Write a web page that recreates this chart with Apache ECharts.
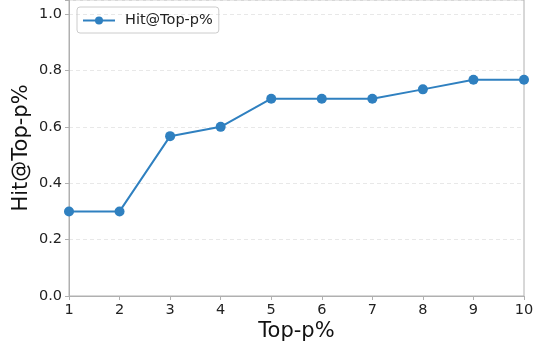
<!DOCTYPE html>
<html>
<head>
<meta charset="utf-8">
<script src="https://cdn.jsdelivr.net/npm/echarts@6/dist/echarts.min.js"></script>
<style>html,body{margin:0;padding:0;background:#fff}#c{width:545px;height:349px}</style>
</head>
<body>
<div id="c"></div>
<script>
// Hit rate at each Top-p% cutoff
const topP = [1, 2, 3, 4, 5, 6, 7, 8, 9, 10];
const hitRate = [0.3, 0.3, 0.567, 0.6, 0.7, 0.7, 0.7, 0.733, 0.767, 0.767];
const seriesName = 'Hit@Top-p%';

const font = 'DejaVu Sans';
const axisGray = '#b0b0b0';
const chart = echarts.init(document.getElementById('c'), null, {renderer: 'canvas'});
chart.setOption({
  animation: false,
  textStyle: {fontFamily: font},
  grid: {left: 69, right: 21, top: 0, bottom: 53, outerBoundsMode: 'none', containLabel: false,
    show: true, borderColor: axisGray, borderWidth: 1, backgroundColor: 'transparent'},
  legend: {
    show: true,
    left: 77, top: 7,
    padding: [6, 6, 5, 5],
    borderColor: '#cccccc', borderWidth: 1, borderRadius: 3,
    itemWidth: 32, itemHeight: 10, itemGap: 10,
    textStyle: {fontFamily: font, fontSize: 14.5, color: '#222', padding: [0, 0, 0, 5]},
    data: [{name: seriesName}]
  },
  xAxis: {
    type: 'value', min: 1, max: 10, interval: 1,
    name: 'Top-p%', nameLocation: 'middle', nameGap: 25, nameMoveOverlap: false,
    nameTextStyle: {fontFamily: font, fontSize: 21, color: '#111'},
    axisLine: {show: true, lineStyle: {color: axisGray, width: 1}},
    axisTick: {show: true, length: 4, lineStyle: {color: axisGray}},
    axisLabel: {fontFamily: font, fontSize: 14.5, color: '#222', margin: 7},
    splitLine: {show: false}
  },
  yAxis: {
    type: 'value', min: 0, max: 1.05, interval: 0.2,
    name: 'Hit@Top-p%', nameLocation: 'middle', nameGap: 37, nameMoveOverlap: false,
    nameTextStyle: {fontFamily: font, fontSize: 21, color: '#111'},
    axisLine: {show: true, lineStyle: {color: axisGray, width: 1}},
    axisTick: {show: true, length: 4, lineStyle: {color: axisGray}},
    axisLabel: {fontFamily: font, fontSize: 14.5, color: '#222', margin: 7,
      formatter: v => (Math.abs(v - 1.05) < 1e-9 ? '' : v.toFixed(1))},
    splitLine: {show: true, lineStyle: {color: '#e8e8e8', type: [4, 3], width: 1}}
  },
  series: [{
    name: seriesName,
    type: 'line',
    data: topP.map((x, i) => [x, hitRate[i]]),
    symbol: 'circle', symbolSize: 10,
    itemStyle: {color: '#2f80c0'},
    lineStyle: {color: '#2f80c0', width: 2},
    clip: false
  }]
});
</script>
</body>
</html>
